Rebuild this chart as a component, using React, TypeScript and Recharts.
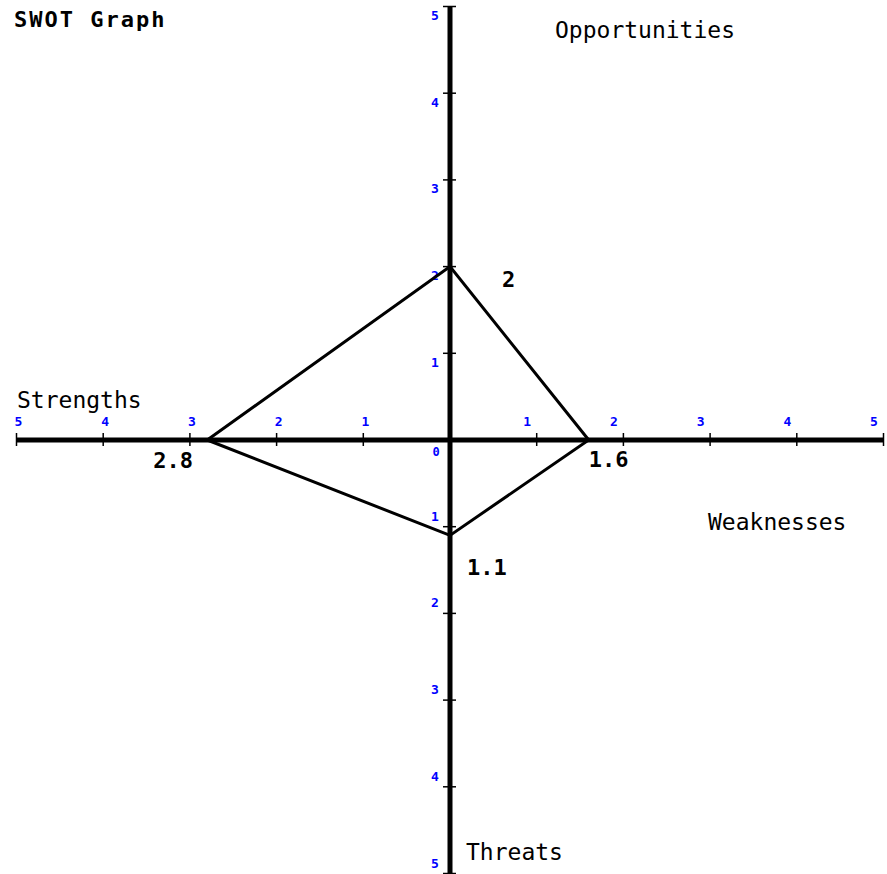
import React from "react";
import {
  ScatterChart,
  Scatter,
  XAxis,
  YAxis,
  ReferenceLine,
  ReferenceDot,
} from "recharts";

// SWOT scores, clockwise from Strengths
const categories = ["Strengths", "Opportunities", "Weaknesses", "Threats"];
const scores = [2.8, 2, 1.6, 1.1];
const scoreLabels = ["2.8", "2", "1.6", "1.1"];
const axisTicks = [1, 2, 3, 4, 5];

// direction of each category on the plane
const directions: Record<string, [number, number]> = {
  Strengths: [-1, 0],
  Opportunities: [0, 1],
  Weaknesses: [1, 0],
  Threats: [0, -1],
};

// where each value label sits relative to its vertex (px)
const labelOffsets: Record<string, [number, number]> = {
  Strengths: [-54, 28],
  Opportunities: [52, 20],
  Weaknesses: [0, 27],
  Threats: [17, 40],
};

const points = categories.map((c, i) => ({
  name: c,
  x: directions[c][0] * scores[i],
  y: directions[c][1] * scores[i],
  label: scoreLabels[i],
}));
const polygon = [...points, points[0]];

const W = 887;
const H = 874;
const MONO = "'DejaVu Sans Mono', monospace";
const BLUE = "#0000ff";

function HTick(side: number, n: number) {
  return (p: any) => (
    <g>
      <line x1={p.cx} x2={p.cx} y1={p.cy - 7} y2={p.cy + 6} stroke="#000" strokeWidth={1.5} />
      <text
        x={p.cx + (side < 0 ? 2 : -9.5)}
        y={p.cy - 14}
        textAnchor="middle"
        fontFamily={MONO}
        fontWeight="bold"
        fontSize={13}
        fill={BLUE}
      >
        {n}
      </text>
    </g>
  );
}

function VTick(side: number, n: number) {
  return (p: any) => (
    <g>
      <line x1={p.cx - 7} x2={p.cx + 6} y1={p.cy} y2={p.cy} stroke="#000" strokeWidth={1.5} />
      <text
        x={p.cx - 15}
        y={p.cy + (side > 0 ? 13.5 : -6)}
        textAnchor="middle"
        fontFamily={MONO}
        fontWeight="bold"
        fontSize={13}
        fill={BLUE}
      >
        {n}
      </text>
    </g>
  );
}

function ValueLabel(name: string, text: string) {
  const [dx, dy] = labelOffsets[name];
  return (p: any) => (
    <text
      x={p.cx + dx}
      y={p.cy + dy}
      fontFamily={MONO}
      fontWeight="bold"
      fontSize={22}
      fill="#000"
    >
      {text}
    </text>
  );
}

export default function App() {
  return (
    <div style={{ position: "absolute", left: 0, top: 0, width: W, height: H, background: "#fff" }}>
      <ScatterChart
        width={W}
        height={H}
        margin={{ top: 6.5, right: 3.5, bottom: 0.5, left: 16.5 }}
      >
        <XAxis type="number" dataKey="x" domain={[-5, 5]} hide />
        <YAxis type="number" dataKey="y" domain={[-5, 5]} hide width={0} />
        <ReferenceLine x={0} stroke="#000" strokeWidth={5} />
        <ReferenceLine y={0} stroke="#000" strokeWidth={5} />
        {axisTicks.map((n) => (
          <ReferenceDot key={"r" + n} x={n} y={0} r={0} shape={HTick(1, n)} />
        ))}
        {axisTicks.map((n) => (
          <ReferenceDot key={"l" + n} x={-n} y={0} r={0} shape={HTick(-1, n)} />
        ))}
        {axisTicks.map((n) => (
          <ReferenceDot key={"u" + n} x={0} y={n} r={0} shape={VTick(1, n)} />
        ))}
        {axisTicks.map((n) => (
          <ReferenceDot key={"d" + n} x={0} y={-n} r={0} shape={VTick(-1, n)} />
        ))}
        <ReferenceDot
          x={0}
          y={0}
          r={0}
          shape={(p: any) => (
            <text x={p.cx - 14} y={p.cy + 16} textAnchor="middle" fontFamily={MONO} fontWeight="bold" fontSize={12} fill={BLUE}>
              0
            </text>
          )}
        />
        <Scatter
          data={polygon}
          line={{ stroke: "#000", strokeWidth: 3 }}
          lineType="joint"
          shape={() => <g />}
          isAnimationActive={false}
        />
        {points.map((pt) => (
          <ReferenceDot key={pt.name} x={pt.x} y={pt.y} r={0} shape={ValueLabel(pt.name, pt.label)} />
        ))}
      </ScatterChart>
      <svg
        width={W}
        height={H}
        style={{ position: "absolute", left: 0, top: 0, pointerEvents: "none" }}
        fontFamily={MONO}
        fontSize={23}
      >
        <text x={14} y={27} fontWeight="bold" fontSize={22} letterSpacing={2}>
          SWOT Graph
        </text>
        <text x={555} y={38}>Opportunities</text>
        <text x={17} y={408}>Strengths</text>
        <text x={708} y={530}>Weaknesses</text>
        <text x={466} y={860}>Threats</text>
      </svg>
    </div>
  );
}
